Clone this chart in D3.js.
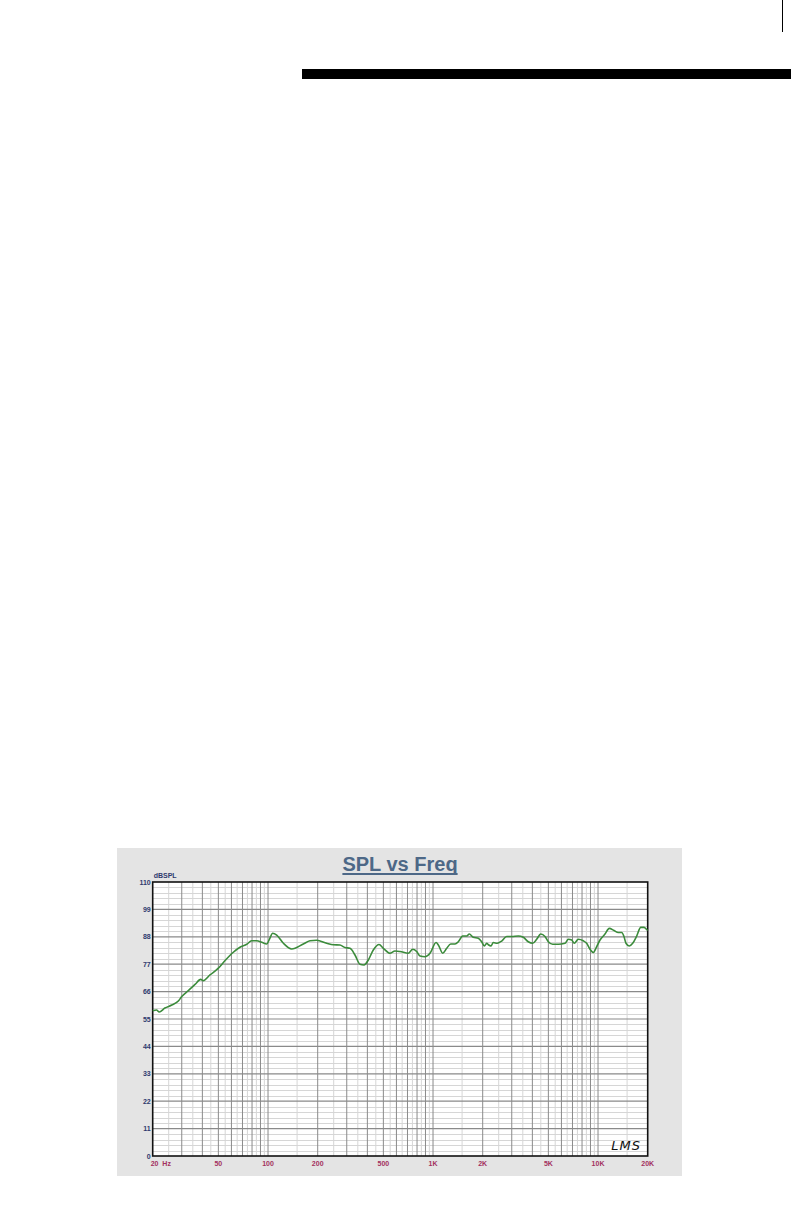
<!DOCTYPE html>
<html><head><meta charset="utf-8">
<script src="https://cdn.jsdelivr.net/npm/d3@7"></script>
<style>html,body{margin:0;padding:0;background:#fff;}svg{display:block;}</style>
</head><body>
<script>
const freqs = [20,21.1,21.9,23.7,26.1,28.6,30,32.9,36.1,39.1,40.5,44.5,50,54.8,61.1,67.6,74.3,79.6,85.4,91.6,98.2,101.9,106.7,112.9,123.9,139.1,163.6,179.6,197.2,226.8,248.8,272.9,292.5,313.9,336.5,360.6,381.7,405.5,434.5,470.8,500,548.3,587.9,630.7,708,753,796,834,894,959,1043,1077,1145,1211,1280,1359,1423,1513,1600,1659,1754,1881,1972,2047,2114,2164,2245,2318,2450,2606,2793,2997,3287,3524,3777,4016,4248,4493,4771,5000,5313,5743,6306,6606,6924,7180,7590,8140,8532,8940,9361,9815,10280,11020,11700,12500,13270,13910,14360,14770,15460,16220,17150,18150,19010,20000];
const spl = [58.3,58.6,57.8,59.4,60.6,62.2,64,66.4,68.9,70.9,70.4,72.7,75.4,78.4,81.6,83.8,85,86.4,86.4,85.8,85.1,87,89.4,88.7,85.4,83.1,85.1,86.4,86.6,85.4,84.8,84.7,83.7,83.4,80.7,77,76.7,78.7,82.7,84.9,83.4,81.4,82.3,82.1,81.4,83,82.1,80.3,80,81.4,85.7,84.7,81.4,83.4,85.1,85.1,86,88.3,88.3,89.1,87.8,87.4,86,84.3,85.4,84.8,84.3,85.7,85.4,86.3,88.1,88.1,88.3,87.8,86,85.4,87,89.1,88.1,86,85,85,85.4,87,86.7,85.4,87,86.4,85.4,83,81.7,84.1,86.7,89.1,91.4,90.5,89.7,89.7,88.1,85.4,84.3,85.4,88.3,91.8,91.8,90.7,89.4];
const yTicks = [0,11,22,33,44,55,66,77,88,99,110];
const xTickVals = [20,50,100,200,500,1000,2000,5000,10000,20000];
const xTickLabels = ["20  Hz","50","100","200","500","1K","2K","5K","10K","20K"];
const titleText = "SPL vs Freq";
const yUnit = "dBSPL";

const W = 791, H = 1224;
const svg = d3.select("body").append("svg").attr("width", W).attr("height", H);

// top decorations
svg.append("rect").attr("x",302).attr("y",69).attr("width",489).attr("height",10).attr("fill","#000");
svg.append("line").attr("x1",782.5).attr("x2",782.5).attr("y1",0).attr("y2",32).attr("stroke","#000").attr("stroke-width",1);

// panel
svg.append("rect").attr("x",117).attr("y",848).attr("width",565).attr("height",328).attr("fill","#e4e4e4");

const L = 152.7, R = 647.7, T = 882, B = 1156;
const x = d3.scaleLog().domain([20,20000]).range([L,R]);
const y = d3.scaleLinear().domain([0,110]).range([B,T]);

const g = svg.append("g");
g.append("rect").attr("x",L).attr("y",T).attr("width",R-L).attr("height",B-T).attr("fill","#fff");

// minor horizontal
const minorY = d3.range(0,110.01,2.2).filter(v => yTicks.indexOf(Math.round(v*10)/10) < 0);
g.selectAll(".hmin").data(minorY).enter().append("line")
  .attr("x1",L).attr("x2",R).attr("y1",d=>Math.round(y(d))+0.5).attr("y2",d=>Math.round(y(d))+0.5)
  .attr("stroke","#d6d6d6").attr("stroke-width",1);
// minor vertical
const minorX = [], majorX = [];
[10,100,1000,10000].forEach(dec => {
  for (let m=1;m<=9;m++){
    const f = m*dec, fh = (m+0.5)*dec;
    if (f>20 && f<20000) majorX.push(f);
    if (fh>20 && fh<20000 && m<9) minorX.push(fh);
  }
});
minorX.push(95,950,9500);
g.selectAll(".vmin").data(minorX).enter().append("line")
  .attr("x1",d=>x(d)).attr("x2",d=>x(d)).attr("y1",T).attr("y2",B)
  .attr("stroke","#d6d6d6").attr("stroke-width",1);
g.selectAll(".vmaj").data(majorX).enter().append("line")
  .attr("x1",d=>x(d)).attr("x2",d=>x(d)).attr("y1",T).attr("y2",B)
  .attr("stroke","#8a8a8a").attr("stroke-width",1);
g.selectAll(".hmaj").data(yTicks.slice(1,-1)).enter().append("line")
  .attr("x1",L).attr("x2",R).attr("y1",d=>y(d)).attr("y2",d=>y(d))
  .attr("stroke","#8a8a8a").attr("stroke-width",1.2);

// border
g.append("rect").attr("x",L).attr("y",T).attr("width",R-L).attr("height",B-T)
  .attr("fill","none").attr("stroke","#111").attr("stroke-width",1.6);

// curve
const line = d3.line().x((d,i)=>x(freqs[i])).y(d=>y(d)).curve(d3.curveMonotoneX);
g.append("path").attr("d",line(spl)).attr("fill","none").attr("stroke","#3b8b3b").attr("stroke-width",1.6);

// y labels
g.selectAll(".yl").data(yTicks).enter().append("text")
  .attr("x",L-2).attr("y",d=>y(d)+2.5).attr("text-anchor","end")
  .attr("font-family","Liberation Sans, Arial, sans-serif").attr("font-weight","bold")
  .attr("font-size",7).attr("fill","#2e3a6e").text(d=>d);
g.append("text").attr("x",L+1).attr("y",T-4).attr("font-family","Liberation Sans, Arial, sans-serif")
  .attr("font-weight","bold").attr("font-size",7).attr("fill","#2e3a6e").text(yUnit);

// x labels
g.selectAll(".xl").data(xTickVals).enter().append("text")
  .attr("x",(d,i)=> i===0 ? L-2 : x(d)).attr("y",B+10)
  .attr("text-anchor",(d,i)=> i===0 ? "start" : "middle")
  .attr("font-family","Liberation Sans, Arial, sans-serif").attr("font-weight","bold")
  .attr("font-size",7).attr("fill","#a3305e").attr("xml:space","preserve")
  .style("white-space","pre").text((d,i)=>xTickLabels[i]);

// title
const tt = svg.append("text").attr("x",400).attr("y",871).attr("text-anchor","middle")
  .attr("font-family","Liberation Sans, Arial, sans-serif").attr("font-weight","bold")
  .attr("font-size",20).attr("fill","#4d6887").text(titleText);
const bb = tt.node().getBBox();
svg.append("line").attr("x1",bb.x).attr("x2",bb.x+bb.width).attr("y1",874).attr("y2",874)
  .attr("stroke","#4d6887").attr("stroke-width",1.8);

// signature
svg.append("text").attr("x",641).attr("y",1150).attr("text-anchor","end")
  .attr("font-family","DejaVu Sans, sans-serif").attr("font-style","italic")
  .attr("font-size",13).attr("fill","#111").attr("letter-spacing",1).text("LMS");
</script>
</body></html>
